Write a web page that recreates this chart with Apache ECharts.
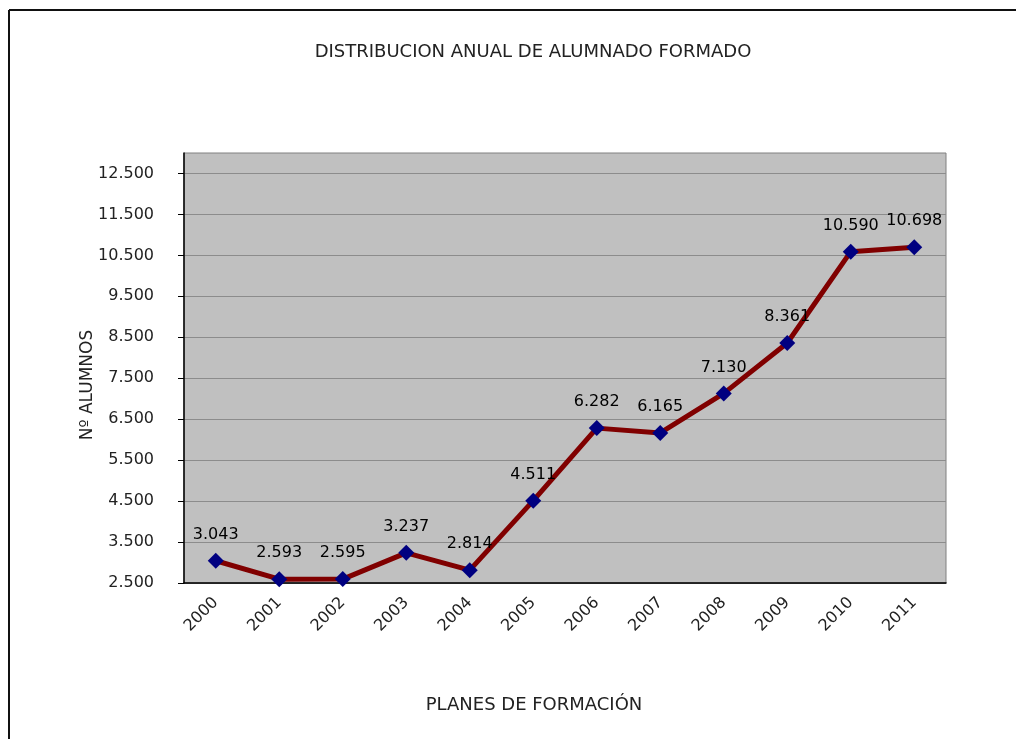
<!DOCTYPE html>
<html>
<head>
<meta charset="utf-8">
<style>
  html, body { margin: 0; padding: 0; background: #fff; }
  #chart { width: 1016px; height: 739px; }
</style>
<script src="https://cdn.jsdelivr.net/npm/echarts@6/dist/echarts.min.js"></script>
</head>
<body>
<div id="chart"></div>
<script>
const years = ["2000", "2001", "2002", "2003", "2004", "2005", "2006", "2007", "2008", "2009", "2010", "2011"];
const students = [3043, 2593, 2595, 3237, 2814, 4511, 6282, 6165, 7130, 8361, 10590, 10698];
const yTicks = [2500, 3500, 4500, 5500, 6500, 7500, 8500, 9500, 10500, 11500, 12500];

const font = "DejaVu Sans, Liberation Sans, Arial, sans-serif";
// spanish style thousands separator
const fmt = (v) => String(Math.round(v)).replace(/\B(?=(\d{3})+(?!\d))/g, ".");

const chart = echarts.init(document.getElementById("chart"), null, { renderer: "canvas" });
chart.setOption({
  animation: false,
  backgroundColor: "#fff",
  title: {
    text: "DISTRIBUCION ANUAL DE ALUMNADO FORMADO",
    left: 528,
    top: 38,
    textAlign: "center",
    textStyle: { fontFamily: font, fontSize: 18, fontWeight: "normal", color: "#222" },
  },
  graphic: [
    { type: "line", shape: { x1: 9, y1: 10, x2: 1016, y2: 10 }, style: { stroke: "#111", lineWidth: 2 } },
    { type: "line", shape: { x1: 9, y1: 10, x2: 9, y2: 739 }, style: { stroke: "#111", lineWidth: 2 } },
    {
      type: "text",
      x: 88,
      y: 385,
      rotation: Math.PI / 2,
      style: {
        text: "Nº ALUMNOS",
        fontFamily: font,
        fontSize: 17,
        fill: "#222",
        align: "center",
        verticalAlign: "middle",
      },
    },
    {
      type: "text",
      x: 534,
      y: 705,
      style: {
        text: "PLANES DE FORMACIÓN",
        fontFamily: font,
        fontSize: 18,
        fill: "#222",
        align: "center",
        verticalAlign: "middle",
      },
    },
  ],
  grid: {
    left: 184,
    top: 153,
    right: 70,
    bottom: 156,
    show: true,
    backgroundColor: "#c0c0c0",
    borderColor: "#808080",
    borderWidth: 1,
  },
  xAxis: {
    type: "category",
    data: years,
    boundaryGap: true,
    axisLine: { lineStyle: { color: "#000", width: 1.5 } },
    axisTick: { alignWithLabel: false, length: 6, lineStyle: { color: "#000" } },
    axisLabel: { rotate: 45, fontFamily: font, fontSize: 16, color: "#222", margin: 17 },
  },
  yAxis: {
    type: "value",
    min: 2500,
    max: 13000,
    interval: 1000,
    axisLine: { show: true, lineStyle: { color: "#000", width: 1.5 } },
    axisTick: { show: true, length: 6, lineStyle: { color: "#000" }, customValues: yTicks },
    axisLabel: { fontFamily: font, fontSize: 16, color: "#222", margin: 30, customValues: yTicks, formatter: fmt },
    splitLine: { lineStyle: { color: "#8c8c8c", width: 1 } },
  },
  series: [
    {
      type: "line",
      data: students,
      symbol: "diamond",
      symbolSize: 16,
      lineStyle: { color: "#800000", width: 5 },
      itemStyle: { color: "#000080" },
      label: {
        show: true,
        position: "top",
        distance: 10,
        fontFamily: font,
        fontSize: 16,
        color: "#000",
        formatter: (p) => fmt(p.value),
      },
    },
  ],
});
</script>
</body>
</html>
